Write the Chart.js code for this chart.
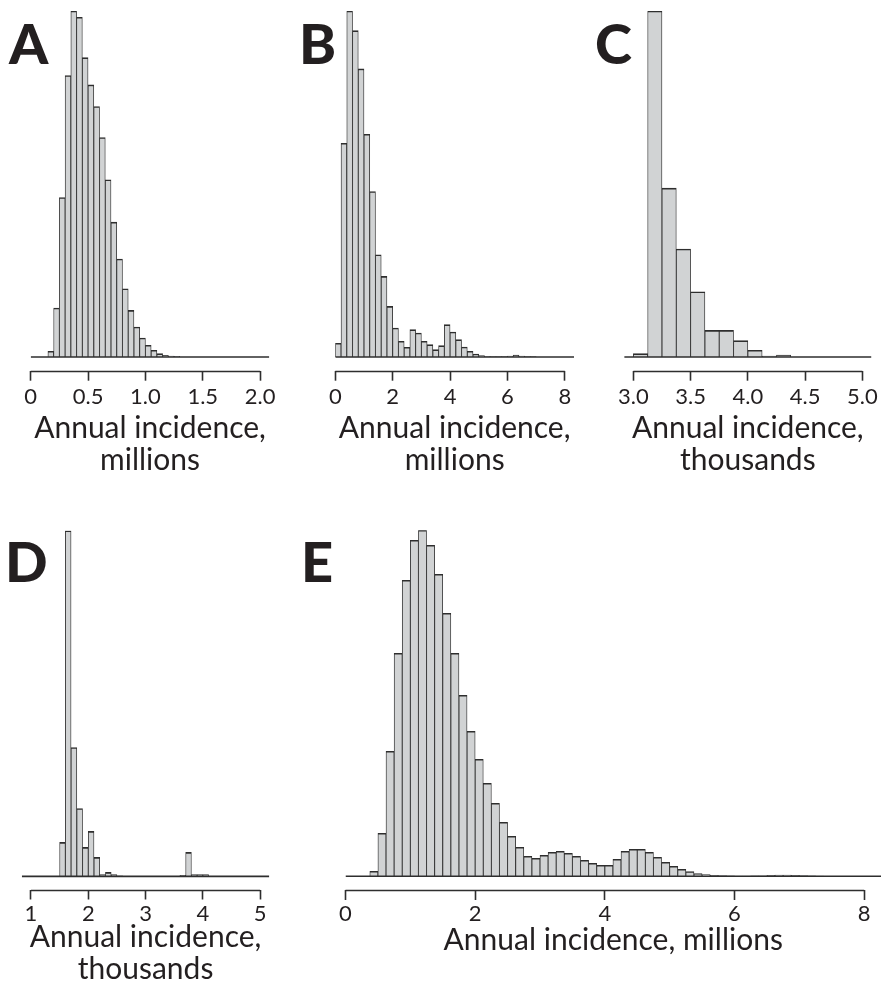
<!DOCTYPE html>
<html>
<head>
<meta charset="utf-8">
<title>Annual incidence histograms</title>
<script src="https://cdn.jsdelivr.net/npm/chart.js@4.4.1/dist/chart.umd.min.js"></script>
<style>
  html, body { margin: 0; padding: 0; background: #fff; }
  body { width: 881px; height: 983px; position: relative; overflow: hidden; font-family: Lato, "Open Sans", sans-serif; }
  .panel { position: absolute; }
  .tag { position: absolute; font: 900 56px Lato, sans-serif; line-height: 1; color: #231f20; }
</style>
</head>
<body>
<div class="panel" style="left:0;top:0;width:290px;height:480px"><canvas id="chartA"></canvas></div>
<div class="panel" style="left:290px;top:0;width:290px;height:480px"><canvas id="chartB"></canvas></div>
<div class="panel" style="left:580px;top:0;width:301px;height:480px"><canvas id="chartC"></canvas></div>
<div class="panel" style="left:0;top:500px;width:290px;height:500px"><canvas id="chartD"></canvas></div>
<div class="panel" style="left:330px;top:500px;width:551px;height:500px"><canvas id="chartE"></canvas></div>

<div class="tag" style="left:9px;top:15px">A</div>
<div class="tag" style="left:299px;top:15px">B</div>
<div class="tag" style="left:595px;top:15px">C</div>
<div class="tag" style="left:5px;top:533px">D</div>
<div class="tag" style="left:301px;top:533px">E</div>

<script>
// ---------- Data: bin lower edges and bar heights (relative) ----------
const binWidthA = 0.05;
const binsA = [0.15, 0.20, 0.25, 0.30, 0.35, 0.40, 0.45, 0.50, 0.55, 0.60, 0.65, 0.70,
  0.75, 0.80, 0.85, 0.90, 0.95, 1.00, 1.05, 1.10, 1.15, 1.20, 1.25];
const countsA = [17, 147, 479, 845, 1039, 1020, 899, 817, 752, 659, 532, 405,
  294, 205, 140, 90, 57, 35, 20, 10, 5, 3, 2];
const ticksA = [0, 0.5, 1, 1.5, 2];
const tickLabelsA = ['0', '0.5', '1.0', '1.5', '2.0'];

const binWidthB = 0.2;
const binsB = [0.0, 0.2, 0.4, 0.6, 0.8, 1.0, 1.2, 1.4, 1.6, 1.8, 2.0, 2.2, 2.4, 2.6, 2.8,
  3.0, 3.2, 3.4, 3.6, 3.8, 4.0, 4.2, 4.4, 4.6, 4.8, 5.0, 5.2, 5.4, 5.6, 5.8,
  6.0, 6.2, 6.4, 6.6, 6.8];
const countsB = [41, 642, 1039, 980, 865, 669, 497, 307, 242, 152, 87, 47, 29, 82, 72,
  47, 37, 22, 34, 97, 75, 52, 30, 17, 9, 4, 2, 1, 1, 1,
  3, 6, 3, 1, 1];
const ticksB = [0, 2, 4, 6, 8];
const tickLabelsB = ['0', '2', '4', '6', '8'];

const binWidthC = 0.125;
const binsC = [3.0, 3.125, 3.25, 3.375, 3.5, 3.625, 3.75, 3.875, 4.0, 4.125, 4.25, 4.375];
const countsC = [10, 1039, 507, 324, 196, 80, 80, 49, 20, 3, 6, 0];
const ticksC = [3, 3.5, 4, 4.5, 5];
const tickLabelsC = ['3.0', '3.5', '4.0', '4.5', '5.0'];

const binWidthD = 0.1;
const binsD = [1.5, 1.6, 1.7, 1.8, 1.9, 2.0, 2.1, 2.2, 2.3, 2.4, 2.5, 2.6, 2.7, 2.8, 2.9,
  3.0, 3.1, 3.2, 3.3, 3.4, 3.5, 3.6, 3.7, 3.8, 3.9, 4.0];
const countsD = [34, 346, 129, 68, 29, 45, 19, 1.7, 4, 1.7, 0.5, 0, 0, 0, 0,
  0, 0, 0, 0, 0, 0, 1, 24, 1.7, 1.7, 1.7];
const ticksD = [1, 2, 3, 4, 5];
const tickLabelsD = ['1', '2', '3', '4', '5'];

const binWidthE = 0.125;
const binsE = [0.375, 0.5, 0.625, 0.75, 0.875, 1.0, 1.125, 1.25, 1.375, 1.5, 1.625, 1.75, 1.875,
  2.0, 2.125, 2.25, 2.375, 2.5, 2.625, 2.75, 2.875, 3.0, 3.125, 3.25, 3.375, 3.5, 3.625, 3.75, 3.875,
  4.0, 4.125, 4.25, 4.375, 4.5, 4.625, 4.75, 4.875, 5.0, 5.125, 5.25, 5.375, 5.5, 5.625, 5.75, 5.875,
  6.0, 6.125, 6.25, 6.375, 6.5, 6.625, 6.75, 6.875, 7.0, 7.125, 7.25];
const countsE = [5, 43, 125, 223, 296, 336, 346, 331, 302, 263, 223, 181, 145,
  117, 93, 73, 54, 40, 29, 20, 18, 21, 24, 25, 23, 20, 16, 13, 11,
  11, 17, 25, 27, 27, 24, 19, 14, 10, 7, 4.7, 2.7, 1.7, 1, 0.7, 0.5,
  0.3, 0.3, 0.5, 0.5, 1, 1.3, 1.3, 1, 0.7, 0.5, 0.3];
const ticksE = [0, 2, 4, 6, 8];
const tickLabelsE = ['0', '2', '4', '6', '8'];

const titleThousands = ['Annual incidence,', 'thousands'];
const titleMillions = ['Annual incidence,', 'millions'];
const titleMillionsOneLine = 'Annual incidence, millions';

// ---------- Styles ----------
const INK = '#231f20';
const LINE = '#2e2e2e';
const FILL = '#d1d3d4';
const FONT = 'Lato, "Open Sans", sans-serif';

// R-style axis line: only between the first and last tick, at the bottom of the chart area
const rAxisLine = {
  id: 'rAxisLine',
  afterDraw(chart) {
    const sx = chart.scales.x;
    const ticks = sx.ticks;
    if (!ticks.length) return;
    const ctx = chart.ctx;
    const y = Math.round(chart.chartArea.bottom) + 0.5;
    ctx.save();
    ctx.strokeStyle = LINE;
    ctx.lineWidth = 1.6;
    ctx.beginPath();
    ctx.moveTo(sx.getPixelForValue(ticks[0].value), y);
    ctx.lineTo(sx.getPixelForValue(ticks[ticks.length - 1].value), y);
    ctx.stroke();
    ctx.restore();
  }
};

function makeHistogram(p) {
  const yMax = Math.max(...p.counts);
  // baseline sits a few px above the axis line; push y min below 0 accordingly
  const yMin = -yMax * (p.axisY - p.baseY) / (p.baseY - p.pad.top);
  const bars = p.bins.map((b, i) => ({ x: b + p.width / 2, y: p.counts[i] }));

  return new Chart(document.getElementById(p.id), {
    type: 'bar',
    data: {
      datasets: [
        {
          type: 'line',
          data: [{ x: p.xMin, y: 0 }, { x: p.xMax, y: 0 }],
          borderColor: LINE,
          borderWidth: 1.6,
          pointRadius: 0,
          order: 0
        },
        {
          data: bars,
          backgroundColor: FILL,
          borderColor: LINE,
          borderWidth: { top: 1.6, left: 0.85, right: 0.85, bottom: 0 },
          borderSkipped: false,
          barPercentage: 1,
          categoryPercentage: 1,
          order: 1
        }
      ]
    },
    options: {
      responsive: true,
      maintainAspectRatio: false,
      animation: false,
      layout: { padding: { left: p.pad.left, right: p.pad.right, top: p.pad.top, bottom: 0 } },
      plugins: { legend: { display: false }, tooltip: { enabled: false } },
      scales: {
        x: {
          type: 'linear',
          min: p.xMin,
          max: p.xMax,
          offset: false,
          border: { display: false },
          grid: {
            offset: false,
            drawOnChartArea: false,
            drawTicks: true,
            tickLength: 10,
            tickColor: LINE,
            tickWidth: 1.6
          },
          afterBuildTicks: s => { s.ticks = p.ticks.map(v => ({ value: v })); },
          afterFit: s => { s.height = p.axisH; },
          ticks: {
            autoSkip: false,
            maxRotation: 0,
            padding: p.tickPad,
            color: INK,
            font: { family: FONT, size: 22 },
            callback: (v, i) => p.labels[i]
          },
          title: {
            display: true,
            text: p.title,
            color: INK,
            font: { family: FONT, size: 30, lineHeight: 1.05 },
            padding: { top: 0, bottom: p.titlePad }
          }
        },
        y: { display: false, min: yMin, max: yMax }
      }
    },
    plugins: [rAxisLine]
  });
}

document.addEventListener('DOMContentLoaded', () => {
  makeHistogram({ id: 'chartA', bins: binsA, counts: countsA, width: binWidthA,
    ticks: ticksA, labels: tickLabelsA, title: titleMillions, xMin: 0, xMax: 2.08,
    pad: { left: 30.7, right: 20.7, top: 11 }, axisY: 370.7, baseY: 357, axisH: 109.3, tickPad: 3, titlePad: 4.3 });
  makeHistogram({ id: 'chartB', bins: binsB, counts: countsB, width: binWidthB,
    ticks: ticksB, labels: tickLabelsB, title: titleMillions, xMin: 0, xMax: 8.32,
    pad: { left: 45.3, right: 6, top: 11 }, axisY: 370.7, baseY: 357, axisH: 109.3, tickPad: 3, titlePad: 4.3 });
  makeHistogram({ id: 'chartC', bins: binsC, counts: countsC, width: binWidthC,
    ticks: ticksC, labels: tickLabelsC, title: titleThousands, xMin: 2.92, xMax: 5.08,
    pad: { left: 44.2, right: 9.1, top: 11 }, axisY: 370.7, baseY: 357, axisH: 109.3, tickPad: 3, titlePad: 4.3 });
  makeHistogram({ id: 'chartD', bins: binsD, counts: countsD, width: binWidthD,
    ticks: ticksD, labels: tickLabelsD, title: titleThousands, xMin: 0.84, xMax: 5.16,
    pad: { left: 21.8, right: 20.7, top: 30.7 }, axisY: 389.5, baseY: 376.4, axisH: 110.5, tickPad: 1, titlePad: 15 });
  makeHistogram({ id: 'chartE', bins: binsE, counts: countsE, width: binWidthE,
    ticks: ticksE, labels: tickLabelsE, title: titleMillionsOneLine, xMin: 0, xMax: 8.26,
    pad: { left: 15.5, right: 0, top: 30.3 }, axisY: 390, baseY: 376.3, axisH: 110, tickPad: 1, titlePad: 44 });
});
</script>
</body>
</html>
